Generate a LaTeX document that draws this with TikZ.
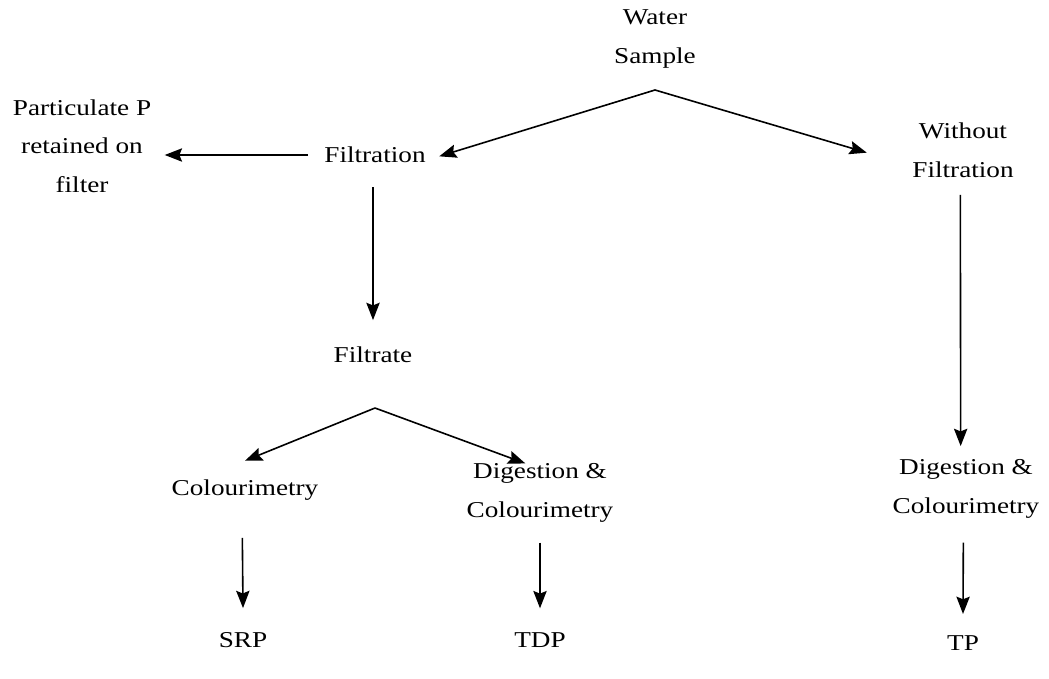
\documentclass[tikz,border=0pt]{standalone}
\usepackage{fontspec}
\setmainfont{Liberation Serif}[FakeStretch=1.2]
\usetikzlibrary{arrows.meta}
\tikzset{
	lbl/.style={align=center, inner sep=0pt, font=\fontsize{17}{29}\selectfont},
	arr/.style={-{Stealth[length=13pt, width=10pt, inset=2pt]}, line width=1.2pt}
}
\begin{document}
\begin{tikzpicture}[x=0.75pt, y=-0.75pt]
	\useasboundingbox (0, 0) rectangle (1049, 678);
	\node[lbl] (water) at (655, 39) {Water\\Sample};
	\node[lbl] (filt) at (375, 155) {Filtration};
	\node[lbl] (part) at (82, 146) {Particulate P\\retained on\\filter};
	\node[lbl] (nofilt) at (963, 150) {Without\\Filtration};
	\node[lbl] (filtrate) at (373, 355) {Filtrate};
	\node[lbl] (col) at (245, 490) {Colourimetry};
	\node[lbl] (dig) at (540, 493) {Digestion \&\\Colourimetry};
	\node[lbl] (digtp) at (966, 489) {Digestion \&\\Colourimetry};
	\node[lbl] (srp) at (243, 640) {SRP};
	\node[lbl] (tdp) at (540, 640) {TDP};
	\node[lbl] (tp) at (963, 643) {TP};
	\coordinate (wsfork) at (655, 90);
	\coordinate (ffork) at (375, 408);
	% branches
	\draw[arr] (wsfork) -- ([xshift=10pt, yshift=-1pt]filt.east);
	\draw[arr] (wsfork) -- ([xshift=-34pt, yshift=-2pt]nofilt.west);
	\draw[arr] ([xshift=-12pt]filt.west) -- ([xshift=10pt]part.east |- filt.west);
	\draw[arr] ([yshift=-18pt]filtrate.north |- filt.south) -- ([yshift=20pt]filtrate.north);
	\draw[arr] (ffork) -- ([yshift=14pt]col.north);
	\draw[arr] (ffork) -- ([xshift=-11pt, yshift=0pt]dig.north);
	\draw[arr] ([xshift=-2pt, yshift=-13pt]nofilt.south) -- ([xshift=-4pt, yshift=10pt]digtp.north);
	% results
	\draw[arr] ([xshift=-2pt, yshift=-28pt]col.south) -- ([yshift=18pt]srp.north);
	\draw[arr] ([yshift=-15pt]dig.south) -- ([yshift=18pt]tdp.north);
	\draw[arr] ([xshift=-2pt, yshift=-18pt]digtp.south) -- ([yshift=16pt]tp.north);
\end{tikzpicture}
\end{document}
